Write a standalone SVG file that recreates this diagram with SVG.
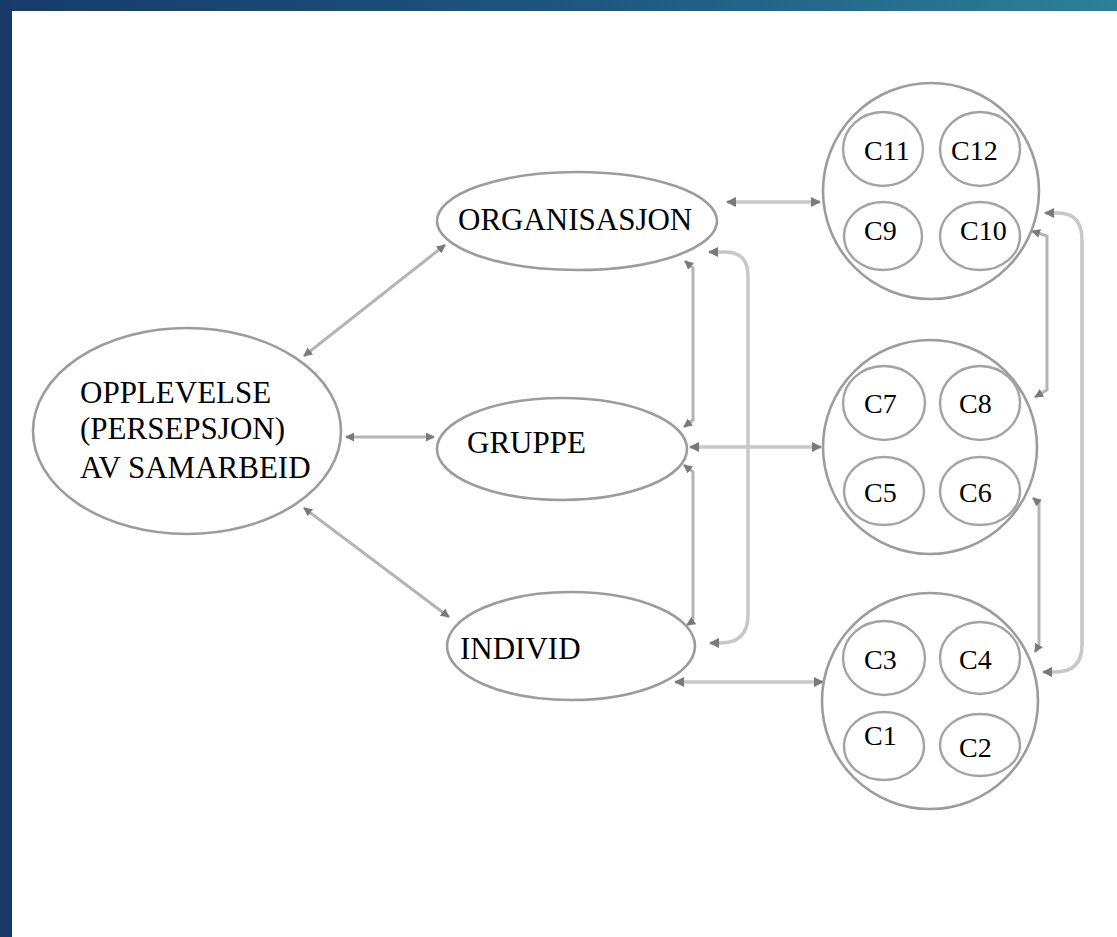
<svg xmlns="http://www.w3.org/2000/svg" width="1117" height="937" viewBox="0 0 1117 937">
<defs>
<linearGradient id="topbar" x1="0" y1="0" x2="1" y2="0">
<stop offset="0" stop-color="#173a6a"/>
<stop offset="0.5" stop-color="#1d5580"/>
<stop offset="1" stop-color="#2c8099"/>
</linearGradient>
<marker id="ah" viewBox="0 0 10 10" refX="9" refY="5" markerWidth="3" markerHeight="3" orient="auto-start-reverse" markerUnits="strokeWidth">
<path d="M0,0 L10,5 L0,10 Z" fill="#7a7a7a"/>
</marker>
<style>
.node{fill:#ffffff;stroke:#9c9c9c;stroke-width:2.6}
.inner{fill:#ffffff;stroke:#a3a3a3;stroke-width:2.4}
.lbl{font-family:"Liberation Serif","Times New Roman",serif;font-size:31px;fill:#000}
.clbl{font-family:"Liberation Serif","Times New Roman",serif;font-size:28px;fill:#000}
.conn{fill:none;stroke:#b4b4b4;stroke-width:3;marker-start:url(#ah);marker-end:url(#ah)}
.conn2{fill:none;stroke:#c8c8c8;stroke-width:3.5;marker-start:url(#ah);marker-end:url(#ah)}
</style>
</defs>
<rect x="0" y="0" width="1117" height="937" fill="#ffffff"/>
<rect x="0" y="0" width="1117" height="11" fill="url(#topbar)"/>
<rect x="0" y="0" width="12" height="937" fill="#173a6a"/>

<g id="connectors">
<path class="conn" d="M304,356 L445,245"/>
<path class="conn" d="M346,437 L434,437"/>
<path class="conn" d="M304,508 L449,617"/>
<path class="conn2" d="M727,202 L820,202"/>
<path class="conn2" d="M690,447 L821,447"/>
<path class="conn2" d="M675,682 L823,682"/>
<path class="conn" d="M685,261 L693,268 L693,420 L684,427"/>
<path class="conn" d="M684,465 L693,472 L693,621 L687,625"/>
<path class="conn2" d="M709,252 L725,252 Q748,252 748,276 L748,615 Q748,643 720,643 L710,643"/>
<path class="conn" d="M1032,231 L1047,236 L1047,390 L1035,397"/>
<path class="conn" d="M1033,498 L1039,503 L1039,645 L1035,652"/>
<path class="conn2" d="M1045,213 L1058,213 Q1082,213 1082,240 L1082,645 Q1082,672 1055,672 L1043,672"/>
</g>

<g id="opplevelse">
<ellipse class="node" cx="187" cy="431" rx="154" ry="103"/>
<text class="lbl" x="80" y="403">OPPLEVELSE</text>
<text class="lbl" x="80" y="439">(PERSEPSJON)</text>
<text class="lbl" x="80" y="478">AV SAMARBEID</text>
</g>
<g id="organisasjon">
<ellipse class="node" cx="577" cy="221" rx="140" ry="49"/>
<text class="lbl" x="458" y="230">ORGANISASJON</text>
</g>
<g id="gruppe">
<ellipse class="node" cx="562" cy="449" rx="125" ry="51"/>
<text class="lbl" x="467" y="453">GRUPPE</text>
</g>
<g id="individ">
<ellipse class="node" cx="571" cy="646" rx="124" ry="54"/>
<text class="lbl" x="460" y="659">INDIVID</text>
</g>

<g id="cluster-top">
<circle class="node" cx="931" cy="191" r="108"/>
<g id="c11"><ellipse class="inner" cx="883" cy="149" rx="40" ry="37"/><text class="clbl" x="864" y="160">C11</text></g>
<g id="c12"><ellipse class="inner" cx="980" cy="149" rx="40" ry="37"/><text class="clbl" x="951" y="160">C12</text></g>
<g id="c9"><ellipse class="inner" cx="883" cy="236" rx="39" ry="34"/><text class="clbl" x="864" y="240">C9</text></g>
<g id="c10"><ellipse class="inner" cx="980" cy="236" rx="40" ry="34"/><text class="clbl" x="960" y="240">C10</text></g>
</g>
<g id="cluster-mid">
<circle class="node" cx="930" cy="447" r="107"/>
<g id="c7"><ellipse class="inner" cx="884" cy="403" rx="41" ry="37"/><text class="clbl" x="864" y="413">C7</text></g>
<g id="c8"><ellipse class="inner" cx="980" cy="403" rx="40" ry="37"/><text class="clbl" x="959" y="413">C8</text></g>
<g id="c5"><ellipse class="inner" cx="884" cy="491" rx="40" ry="34"/><text class="clbl" x="864" y="502">C5</text></g>
<g id="c6"><ellipse class="inner" cx="980" cy="491" rx="40" ry="34"/><text class="clbl" x="959" y="502">C6</text></g>
</g>
<g id="cluster-bottom">
<circle class="node" cx="930" cy="701" r="108"/>
<g id="c3"><ellipse class="inner" cx="884" cy="658" rx="41" ry="37"/><text class="clbl" x="864" y="669">C3</text></g>
<g id="c4"><ellipse class="inner" cx="980" cy="658" rx="40" ry="36"/><text class="clbl" x="959" y="669">C4</text></g>
<g id="c1"><ellipse class="inner" cx="884" cy="746" rx="40" ry="34"/><text class="clbl" x="864" y="745">C1</text></g>
<g id="c2"><ellipse class="inner" cx="980" cy="745" rx="40" ry="31"/><text class="clbl" x="959" y="757">C2</text></g>
</g>
</svg>
